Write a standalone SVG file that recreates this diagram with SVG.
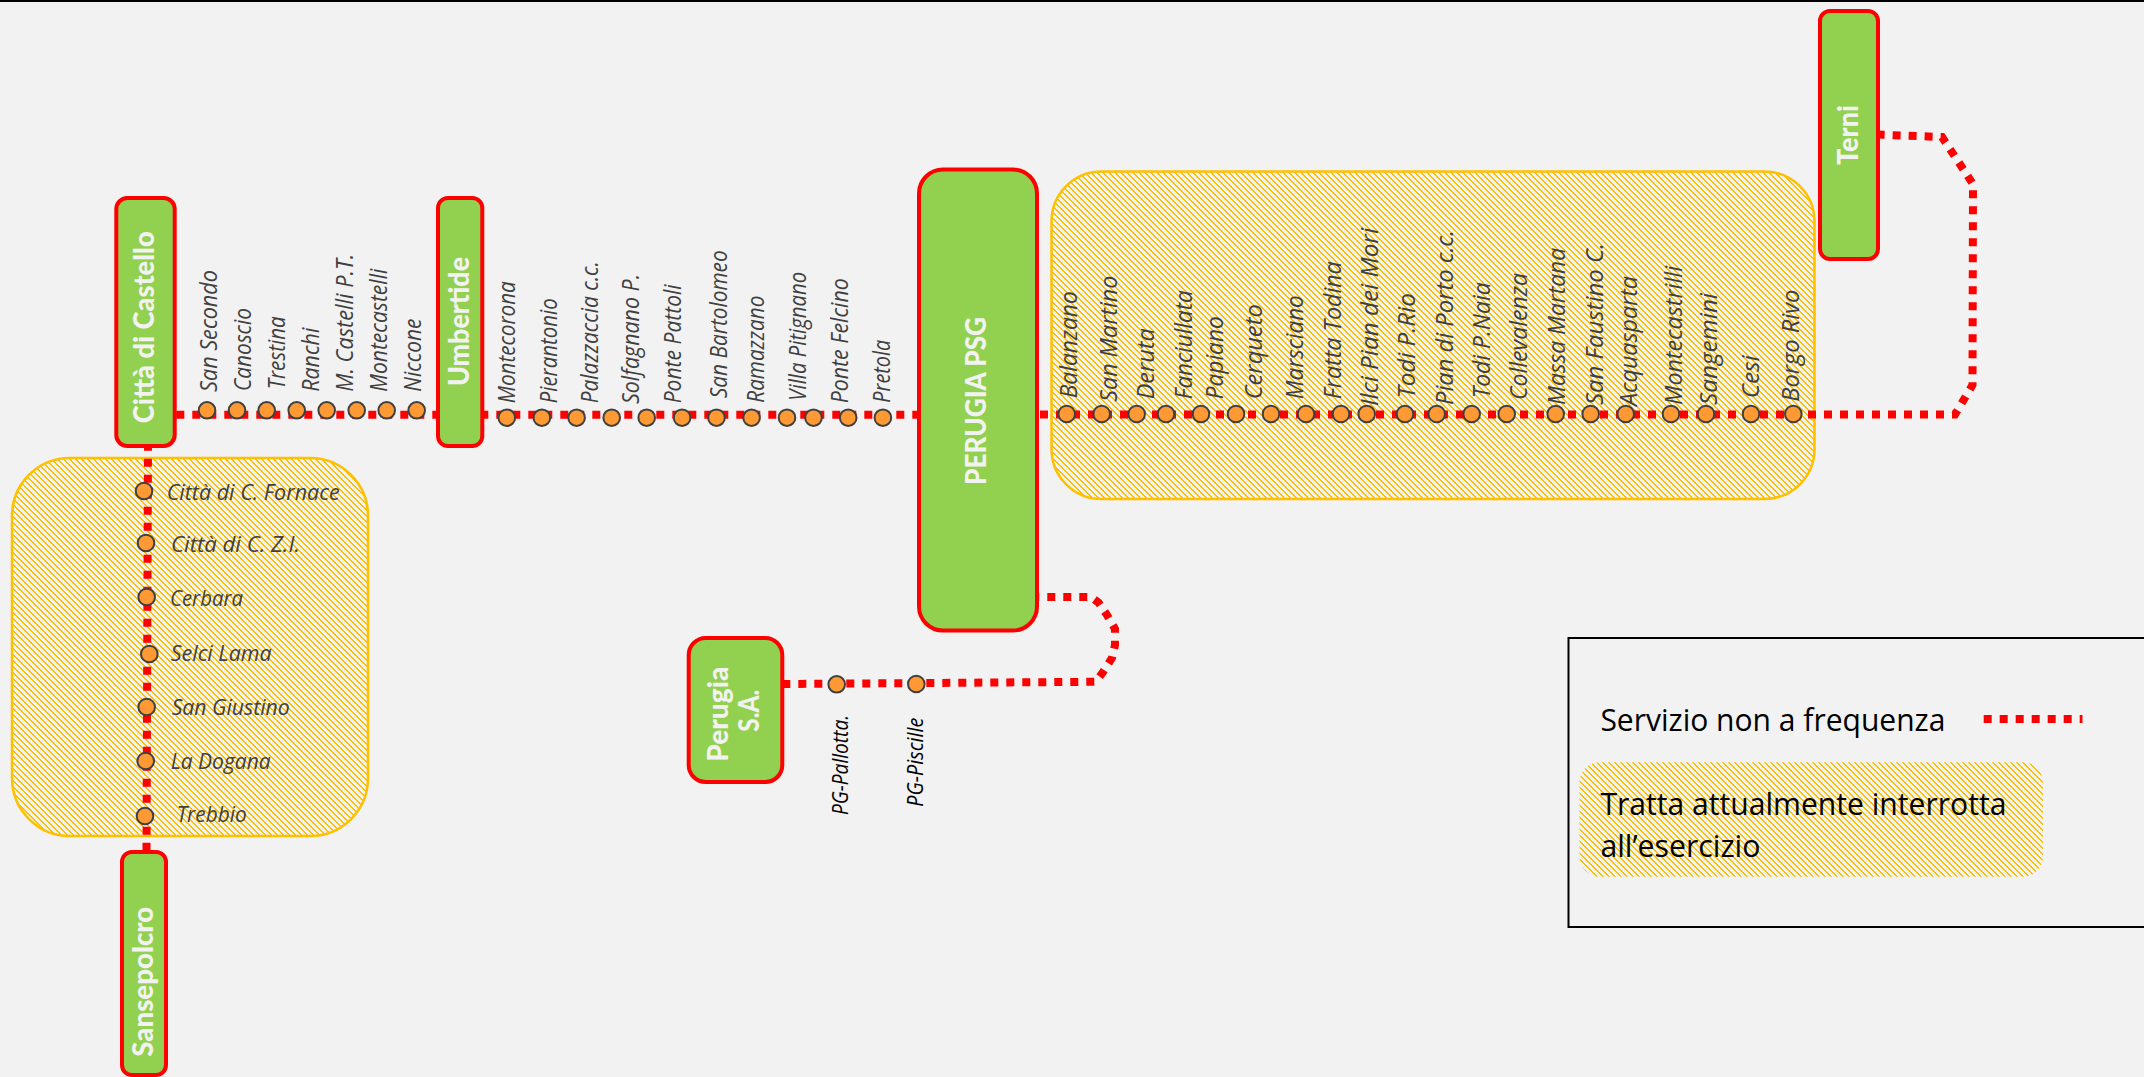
<svg xmlns="http://www.w3.org/2000/svg" width="2144" height="1077" viewBox="0 0 2144 1077">
<style>
.term{fill:#92d050;stroke:#ff0000;stroke-width:4}
.tl{font-family:"Lato","Open Sans",sans-serif;font-weight:900;font-size:28px;fill:#f2f2f2}
.st{fill:#ff9933;stroke:#404040;stroke-width:2}
.sl{font-family:"Open Sans","Noto Sans",sans-serif;font-style:italic;font-weight:400;font-size:23px;fill:#404040}
.sh{font-family:"Open Sans","Noto Sans",sans-serif;font-style:italic;font-weight:400;font-size:21px;fill:#404040}
.sb{font-family:"Open Sans","Noto Sans",sans-serif;font-style:italic;font-weight:400;font-size:22px;fill:#000}
.lk{fill:none;stroke:#ff0000;stroke-width:8;stroke-dasharray:8 8;stroke-linejoin:miter}
.ht{fill:url(#hatch);stroke:#ffc000;stroke-width:2.5}
.lg{font-family:"Open Sans","Noto Sans",sans-serif;font-size:31px;fill:#000}
</style>
<defs>
<pattern id="hatch" patternUnits="userSpaceOnUse" width="6" height="6">
<path d="M0 0h2v1h-2zM1 1h2v1h-2zM2 2h2v1h-2zM3 3h2v1h-2zM4 4h2v1h-2zM5 5h1v1h-1zM0 5h1v1h-1z" fill="#ffc000" shape-rendering="crispEdges"/>
</pattern>
</defs>
<rect width="2144" height="1077" fill="#f2f2f2"/>
<rect width="2144" height="2" fill="#000"/>
<g id="zones">
<rect class="ht" x="12" y="458" width="356" height="378" rx="58" ry="58"/>
<rect class="ht" x="1051.5" y="171.5" width="763" height="327.5" rx="50" ry="50"/>
</g>
<g id="connectors">
<path class="lk" d="M176.3 414.7L918 414.7"/>
<path class="lk" d="M148 442.7L146.5 852"/>
<path class="lk" d="M1040 414.5L1955 414.5L1972.5 385L1973 184L1942 137L1874.7 134.5"/>
<path class="lk" d="M782.3 684L1096 681.8L1103 672L1112 658L1115 645L1115 629L1107 615L1098.5 602.5L1091 597L1032 597"/>
</g>
<g id="legend">
<rect x="1568.5" y="638" width="640" height="289" fill="none" stroke="#000" stroke-width="2"/>
<text class="lg" x="1600.4" y="730.7" textLength="345" lengthAdjust="spacingAndGlyphs">Servizio non a frequenza</text>
<path class="lk" d="M1983.7 719L2082.5 719"/>
<rect x="1579.5" y="762.3" width="463.5" height="114.4" rx="20" fill="url(#hatch)"/>
<text class="lg" x="1600.4" y="815" textLength="406" lengthAdjust="spacingAndGlyphs">Tratta attualmente interrotta</text>
<text class="lg" x="1600.4" y="856.7" textLength="160" lengthAdjust="spacingAndGlyphs">all’esercizio</text>
</g>
<g id="citta-di-castello"><rect class="term" x="116.3" y="198" width="58.4" height="248" rx="11"/><text class="tl" transform="translate(154.3,423.3) rotate(-90)" textLength="192" lengthAdjust="spacingAndGlyphs">Città di Castello</text></g>
<g id="umbertide"><rect class="term" x="438" y="198" width="44.3" height="248" rx="10"/><text class="tl" transform="translate(469.3,386) rotate(-90)" textLength="129" lengthAdjust="spacingAndGlyphs">Umbertide</text></g>
<g id="sansepolcro"><rect class="term" x="122" y="852" width="44" height="223" rx="10"/><text class="tl" transform="translate(152.7,1056.7) rotate(-90)" textLength="150" lengthAdjust="spacingAndGlyphs">Sansepolcro</text></g>
<g id="perugia-psg"><rect class="term" x="919" y="169.5" width="118" height="461" rx="24"/><text class="tl" transform="translate(986,485) rotate(-90)" textLength="168" lengthAdjust="spacingAndGlyphs">PERUGIA PSG</text></g>
<g id="perugia-sa"><rect class="term" x="688.7" y="638" width="93.6" height="144" rx="17"/><text class="tl" transform="translate(727.7,761.7) rotate(-90)" textLength="95" lengthAdjust="spacingAndGlyphs">Perugia</text><text class="tl" transform="translate(759.3,731.7) rotate(-90)" textLength="42" lengthAdjust="spacingAndGlyphs">S.A.</text></g>
<g id="terni"><rect class="term" x="1820" y="11" width="58" height="248" rx="10"/><text class="tl" transform="translate(1857.7,165) rotate(-90)" textLength="60" lengthAdjust="spacingAndGlyphs">Terni</text></g>

<g id="s-fornace"><circle class="st" cx="144" cy="491" r="8.3"/><text class="sh" x="166.7" y="499.7" textLength="173" lengthAdjust="spacingAndGlyphs">Città di C. Fornace</text></g>
<g id="s-zi"><circle class="st" cx="146" cy="543" r="8.3"/><text class="sh" x="171" y="552" textLength="129" lengthAdjust="spacingAndGlyphs">Città di C. Z.I.</text></g>
<g id="s-cerbara"><circle class="st" cx="146.7" cy="597" r="8.3"/><text class="sh" x="170" y="605.8" textLength="73" lengthAdjust="spacingAndGlyphs">Cerbara</text></g>
<g id="s-selci"><circle class="st" cx="149.3" cy="654" r="8.3"/><text class="sh" x="170.7" y="660.6" textLength="101" lengthAdjust="spacingAndGlyphs">Selci Lama</text></g>
<g id="s-giustino"><circle class="st" cx="146.7" cy="707" r="8.3"/><text class="sh" x="171.7" y="715.4" textLength="118" lengthAdjust="spacingAndGlyphs">San Giustino</text></g>
<g id="s-dogana"><circle class="st" cx="145.7" cy="761" r="8.3"/><text class="sh" x="170.7" y="769" textLength="100" lengthAdjust="spacingAndGlyphs">La Dogana</text></g>
<g id="s-trebbio"><circle class="st" cx="145" cy="816" r="8.3"/><text class="sh" x="176.7" y="821.9" textLength="70" lengthAdjust="spacingAndGlyphs">Trebbio</text></g>

<g id="s-san-secondo"><circle class="st" cx="207" cy="410.3" r="8.3"/><text class="sl" transform="translate(216.5,392) rotate(-90)" textLength="122" lengthAdjust="spacingAndGlyphs">San Secondo</text></g>
<g id="s-canoscio"><circle class="st" cx="237" cy="410.3" r="8.3"/><text class="sl" transform="translate(250.7,391) rotate(-90)" textLength="83" lengthAdjust="spacingAndGlyphs">Canoscio</text></g>
<g id="s-trestina"><circle class="st" cx="266.7" cy="410.3" r="8.3"/><text class="sl" transform="translate(285.3,389.3) rotate(-90)" textLength="73" lengthAdjust="spacingAndGlyphs">Trestina</text></g>
<g id="s-ranchi"><circle class="st" cx="296.7" cy="410.3" r="8.3"/><text class="sl" transform="translate(319.3,391.7) rotate(-90)" textLength="64" lengthAdjust="spacingAndGlyphs">Ranchi</text></g>
<g id="s-m-castelli"><circle class="st" cx="326.7" cy="410.3" r="8.3"/><text class="sl" transform="translate(352.7,391.7) rotate(-90)" textLength="138" lengthAdjust="spacingAndGlyphs">M. Castelli P.T.</text></g>
<g id="s-montecastelli"><circle class="st" cx="356.7" cy="410.3" r="8.3"/><text class="sl" transform="translate(387.3,391.7) rotate(-90)" textLength="123" lengthAdjust="spacingAndGlyphs">Montecastelli</text></g>
<g id="s-niccone"><circle class="st" cx="386.7" cy="410.3" r="8.3"/><text class="sl" transform="translate(421.3,391.7) rotate(-90)" textLength="73" lengthAdjust="spacingAndGlyphs">Niccone</text></g>
<g id="s-unlabelled-1"><circle class="st" cx="416.7" cy="410.3" r="8.3"/></g>

<g id="s-montecorona"><circle class="st" cx="506.8" cy="417.7" r="8.3"/><text class="sl" transform="translate(515,403.3) rotate(-90)" textLength="122" lengthAdjust="spacingAndGlyphs">Montecorona</text></g>
<g id="s-pierantonio"><circle class="st" cx="541.9" cy="417.7" r="8.3"/><text class="sl" transform="translate(557,403.3) rotate(-90)" textLength="105" lengthAdjust="spacingAndGlyphs">Pierantonio</text></g>
<g id="s-palazzaccia"><circle class="st" cx="576.6" cy="417.7" r="8.3"/><text class="sl" transform="translate(598,403.3) rotate(-90)" textLength="142" lengthAdjust="spacingAndGlyphs">Palazzaccia c.c.</text></g>
<g id="s-solfagnano"><circle class="st" cx="611.7" cy="417.7" r="8.3"/><text class="sl" transform="translate(639,404) rotate(-90)" textLength="130" lengthAdjust="spacingAndGlyphs">Solfagnano P.</text></g>
<g id="s-ponte-pattoli"><circle class="st" cx="646.7" cy="417.7" r="8.3"/><text class="sl" transform="translate(681,403.3) rotate(-90)" textLength="119" lengthAdjust="spacingAndGlyphs">Ponte Pattoli</text></g>
<g id="s-san-bartolomeo"><circle class="st" cx="682.1" cy="417.7" r="8.3"/><text class="sl" transform="translate(727,398.3) rotate(-90)" textLength="148" lengthAdjust="spacingAndGlyphs">San Bartolomeo</text></g>
<g id="s-ramazzano"><circle class="st" cx="716.5" cy="417.7" r="8.3"/><text class="sl" transform="translate(764.4,402.7) rotate(-90)" textLength="107" lengthAdjust="spacingAndGlyphs">Ramazzano</text></g>
<g id="s-villa-pitignano"><circle class="st" cx="751.6" cy="417.7" r="8.3"/><text class="sl" transform="translate(806.3,400.7) rotate(-90)" textLength="129" lengthAdjust="spacingAndGlyphs">Villa Pitignano</text></g>
<g id="s-ponte-felcino"><circle class="st" cx="787" cy="417.7" r="8.3"/><text class="sl" transform="translate(847.8,403.3) rotate(-90)" textLength="125" lengthAdjust="spacingAndGlyphs">Ponte Felcino</text></g>
<g id="s-pretola"><circle class="st" cx="813.5" cy="417.7" r="8.3"/><text class="sl" transform="translate(889.7,402.7) rotate(-90)" textLength="63" lengthAdjust="spacingAndGlyphs">Pretola</text></g>
<g id="s-unlabelled-2"><circle class="st" cx="848.2" cy="417.7" r="8.3"/></g>
<g id="s-unlabelled-3"><circle class="st" cx="882.9" cy="417.7" r="8.3"/></g>

<g id="s-balanzano"><circle class="st" cx="1066.7" cy="414" r="8.3"/><text class="sl" transform="translate(1077.3,398.3) rotate(-90)" textLength="107" lengthAdjust="spacingAndGlyphs">Balanzano</text></g>
<g id="s-san-martino"><circle class="st" cx="1101.7" cy="414" r="8.3"/><text class="sl" transform="translate(1117.3,401.7) rotate(-90)" textLength="126" lengthAdjust="spacingAndGlyphs">San Martino</text></g>
<g id="s-deruta"><circle class="st" cx="1136.7" cy="414" r="8.3"/><text class="sl" transform="translate(1154,399.3) rotate(-90)" textLength="71" lengthAdjust="spacingAndGlyphs">Deruta</text></g>
<g id="s-fanciullata"><circle class="st" cx="1166" cy="414" r="8.3"/><text class="sl" transform="translate(1191.7,399.3) rotate(-90)" textLength="109" lengthAdjust="spacingAndGlyphs">Fanciullata</text></g>
<g id="s-papiano"><circle class="st" cx="1201" cy="414" r="8.3"/><text class="sl" transform="translate(1223,399.3) rotate(-90)" textLength="83" lengthAdjust="spacingAndGlyphs">Papiano</text></g>
<g id="s-cerqueto"><circle class="st" cx="1236" cy="414" r="8.3"/><text class="sl" transform="translate(1262.3,399.3) rotate(-90)" textLength="95" lengthAdjust="spacingAndGlyphs">Cerqueto</text></g>
<g id="s-marsciano"><circle class="st" cx="1271" cy="414" r="8.3"/><text class="sl" transform="translate(1302.7,399.3) rotate(-90)" textLength="104" lengthAdjust="spacingAndGlyphs">Marsciano</text></g>
<g id="s-fratta"><circle class="st" cx="1306" cy="414" r="8.3"/><text class="sl" transform="translate(1340.7,399.3) rotate(-90)" textLength="138" lengthAdjust="spacingAndGlyphs">Fratta Todina</text></g>
<g id="s-ilci"><circle class="st" cx="1341" cy="414" r="8.3"/><text class="sl" transform="translate(1378,406) rotate(-90)" textLength="178" lengthAdjust="spacingAndGlyphs">Ilci Pian dei Mori</text></g>
<g id="s-todi-rio"><circle class="st" cx="1366.7" cy="414" r="8.3"/><text class="sl" transform="translate(1415,398.3) rotate(-90)" textLength="105" lengthAdjust="spacingAndGlyphs">Todi P.Rio</text></g>
<g id="s-pian-porto"><circle class="st" cx="1405" cy="414" r="8.3"/><text class="sl" transform="translate(1452.7,405) rotate(-90)" textLength="175" lengthAdjust="spacingAndGlyphs">Pian di Porto c.c.</text></g>
<g id="s-todi-naia"><circle class="st" cx="1436.7" cy="414" r="8.3"/><text class="sl" transform="translate(1490,398.3) rotate(-90)" textLength="116" lengthAdjust="spacingAndGlyphs">Todi P.Naia</text></g>
<g id="s-collevalenza"><circle class="st" cx="1471.7" cy="414" r="8.3"/><text class="sl" transform="translate(1526.7,400) rotate(-90)" textLength="127" lengthAdjust="spacingAndGlyphs">Collevalenza</text></g>
<g id="s-massa"><circle class="st" cx="1506.7" cy="414" r="8.3"/><text class="sl" transform="translate(1565,405) rotate(-90)" textLength="157" lengthAdjust="spacingAndGlyphs">Massa Martana</text></g>
<g id="s-faustino"><circle class="st" cx="1555.7" cy="414" r="8.3"/><text class="sl" transform="translate(1603.3,405) rotate(-90)" textLength="162" lengthAdjust="spacingAndGlyphs">San Faustino C.</text></g>
<g id="s-acquasparta"><circle class="st" cx="1590.7" cy="414" r="8.3"/><text class="sl" transform="translate(1637,406) rotate(-90)" textLength="130" lengthAdjust="spacingAndGlyphs">Acquasparta</text></g>
<g id="s-montecastrilli"><circle class="st" cx="1625.7" cy="414" r="8.3"/><text class="sl" transform="translate(1681.7,405) rotate(-90)" textLength="139" lengthAdjust="spacingAndGlyphs">Montecastrilli</text></g>
<g id="s-sangemini"><circle class="st" cx="1671" cy="414" r="8.3"/><text class="sl" transform="translate(1716.7,405) rotate(-90)" textLength="112" lengthAdjust="spacingAndGlyphs">Sangemini</text></g>
<g id="s-cesi"><circle class="st" cx="1706" cy="414" r="8.3"/><text class="sl" transform="translate(1759.3,398.3) rotate(-90)" textLength="43" lengthAdjust="spacingAndGlyphs">Cesi</text></g>
<g id="s-borgo-rivo"><circle class="st" cx="1751" cy="414" r="8.3"/><text class="sl" transform="translate(1799,401.7) rotate(-90)" textLength="112" lengthAdjust="spacingAndGlyphs">Borgo Rivo</text></g>
<g id="s-unlabelled-4"><circle class="st" cx="1793.3" cy="414" r="8.3"/></g>

<g id="s-pallotta"><circle class="st" cx="836.7" cy="684.3" r="8.3"/><text class="sb" transform="translate(848,815) rotate(-90)" textLength="100" lengthAdjust="spacingAndGlyphs">PG-Pallotta.</text></g>
<g id="s-piscille"><circle class="st" cx="916.3" cy="684" r="8.3"/><text class="sb" transform="translate(923.3,806.7) rotate(-90)" textLength="89" lengthAdjust="spacingAndGlyphs">PG-Piscille</text></g>
</svg>
